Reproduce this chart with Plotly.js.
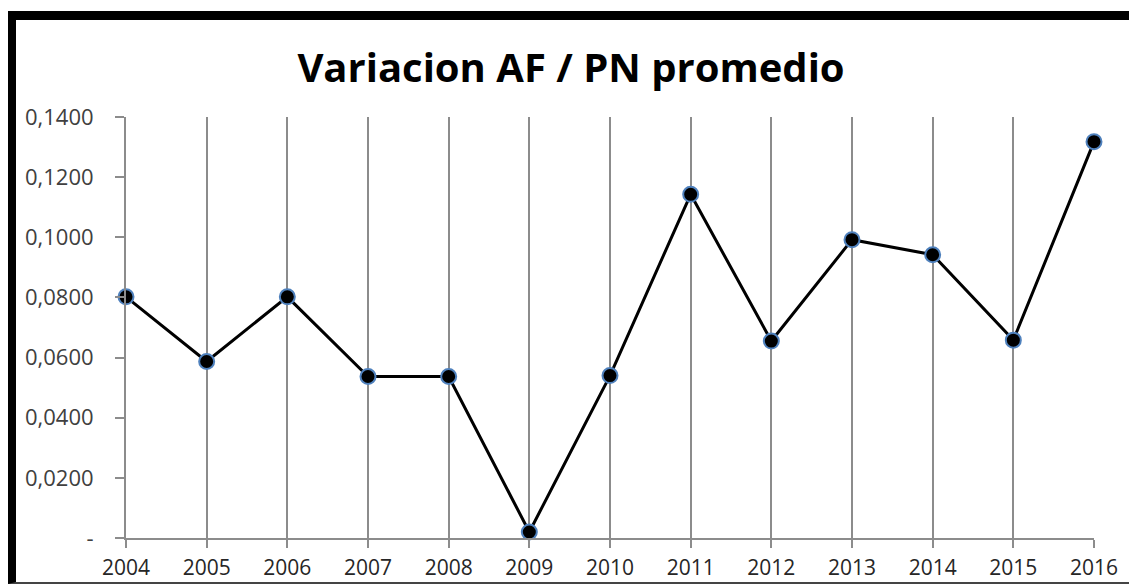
<!DOCTYPE html>
<html>
<head>
<meta charset="utf-8">
<script src="https://cdn.plot.ly/plotly-3.0.1.min.js"></script>
<style>
  html, body { margin:0; padding:0; background:#fff; }
  #wrap { position:relative; width:1129px; height:587px; overflow:hidden; }
  #chart { position:absolute; left:0; top:0; width:1129px; height:587px; }
  #frame { position:absolute; left:8px; top:11px; width:1200px; height:573px;
           border-left:8px solid #000; border-top:9px solid #000; border-bottom:2px solid #444;
           box-sizing:border-box; pointer-events:none; }
</style>
</head>
<body>
<div id="wrap">
  <div id="chart"></div>
  <div id="frame"></div>
</div>
<script>
const years = ['2004','2005','2006','2007','2008','2009','2010','2011','2012','2013','2014','2015','2016'];
const values = [0.0802, 0.0587, 0.0802, 0.0537, 0.0537, 0.0020, 0.0540, 0.1143, 0.0655, 0.0992, 0.0942, 0.0658, 0.1318];
const yTickVals = [0, 0.02, 0.04, 0.06, 0.08, 0.10, 0.12, 0.14];
const yTickText = ['-', '0,0200', '0,0400', '0,0600', '0,0800', '0,1000', '0,1200', '0,1400'];
const titleText = 'Variacion AF / PN promedio';

const trace = {
  x: years.map(Number),
  y: values,
  type: 'scatter',
  mode: 'lines+markers',
  line: { color: '#000', width: 3 },
  marker: { color: '#000', size: 15, line: { color: '#4f81bd', width: 2 } },
  cliponaxis: false,
  hoverinfo: 'skip'
};

const layout = {
  width: 1129, height: 587,
  margin: { l: 126, r: 35, t: 117, b: 49 },
  paper_bgcolor: '#fff', plot_bgcolor: '#fff',
  showlegend: false,
  title: {
    text: '<b>' + titleText + '</b>',
    font: { family: 'Open Sans, sans-serif', size: 40, color: '#000' },
    x: 571/1129, xref: 'container', xanchor: 'center',
    y: 1 - 68/587, yref: 'container', yanchor: 'middle'
  },
  xaxis: {
    range: [2004, 2016],
    tickmode: 'array',
    tickvals: years.map(Number),
    ticktext: years,
    showgrid: true, gridcolor: '#8c8c8c', gridwidth: 2,
    showline: true, linecolor: '#8c8c8c', linewidth: 2,
    ticks: 'outside', ticklen: 8, tickwidth: 2, tickcolor: '#8c8c8c',
    ticklabelstandoff: 2,
    tickfont: { family: 'Open Sans, sans-serif', size: 21, color: '#262626' },
    zeroline: false, fixedrange: true
  },
  yaxis: {
    range: [0, 0.14],
    tickmode: 'array',
    tickvals: yTickVals,
    ticktext: yTickText,
    showgrid: false,
    showline: true, linecolor: '#8c8c8c', linewidth: 2,
    ticks: 'outside', ticklen: 9, tickwidth: 2, tickcolor: '#8c8c8c',
    ticklabelstandoff: 17,
    tickfont: { family: 'Open Sans, sans-serif', size: 22, color: '#404040' },
    zeroline: false, fixedrange: true
  }
};

Plotly.newPlot('chart', [trace], layout, { displayModeBar: false, staticPlot: true });
</script>
</body>
</html>
